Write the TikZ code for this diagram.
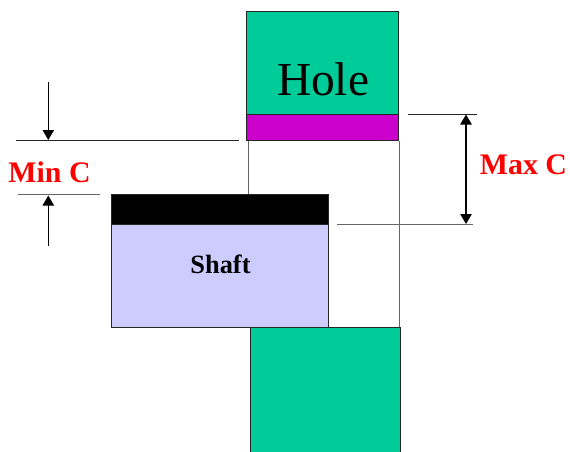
\documentclass[tikz,border=0pt]{standalone}
\usepackage{fontspec}
\setmainfont{Liberation Serif}
\usepackage{xcolor}
\usetikzlibrary{arrows.meta}
\definecolor{holegreen}{HTML}{00CC99}
\definecolor{holepurple}{HTML}{CC00CC}
\definecolor{shaftblue}{HTML}{CCCCFF}
\tikzset{
    part/.style={draw=black!85,line width=0.7pt},
    edgeline/.style={draw=black!60,line width=0.7pt},
    dimline/.style={draw=black!85,line width=0.7pt},
    dimarrow/.style={draw=black,line width=0.7pt,-{Triangle[length=7.5pt,width=8.5pt]}},
    dimlabel/.style={text=red,font=\fontsize{22.4}{24}\selectfont\bfseries,inner sep=0pt},
}

\begin{document}
\begin{tikzpicture}[x=0.75pt,y=-0.75pt]
    \useasboundingbox (0,0) rectangle (570,451);

    % Hole clearance lines
    \draw[edgeline] (248,141) -- (248,328);
    \draw[edgeline] (399.7,141) -- (399.7,327);

    % Hole
    \draw[part,fill=holegreen] (246.7,11) rectangle (398.7,114);
    \draw[part,fill=holepurple] (246.7,114) rectangle (398.7,140.5);
    \draw[part,fill=holegreen] (250.5,327) rectangle (400.7,454);
    \node[inner sep=0pt,font=\fontsize{35.5}{38}\selectfont] (holetext) at (323,79) {Hole};

    % Shaft
    \draw[part,fill=shaftblue] (111.7,224) rectangle (328.7,327);
    \draw[part,fill=black] (111.7,194.7) rectangle (328.7,224);
    \node[inner sep=0pt,font=\fontsize{19.8}{22}\selectfont\bfseries] (shafttext) at (220.5,264) {Shaft};

    % Min C
    \coordinate (mintopl) at (16,140.5);
    \coordinate (mintopr) at (239,140.5);
    \coordinate (minbotl) at (18,194.5);
    \coordinate (minbotr) at (100,194.5);
    \coordinate (minina) at (48.3,82);
    \coordinate (mininb) at (48.3,140);
    \coordinate (minouta) at (48.3,245.5);
    \coordinate (minoutb) at (48.3,195.5);
    \draw[dimline] (mintopl) -- (mintopr);
    \draw[edgeline] (minbotl) -- (minbotr);
    \draw[dimarrow] (minina) -- (mininb);
    \draw[dimarrow] (minouta) -- (minoutb);
    \node[dimlabel] (mintext) at (49.5,172) {Min C};

    % Max C
    \coordinate (maxtopl) at (408,114.5);
    \coordinate (maxtopr) at (477,114.5);
    \coordinate (maxbotl) at (337,224);
    \coordinate (maxbotr) at (473,224);
    \coordinate (maxa) at (466,114.5);
    \coordinate (maxb) at (466,224);
    \draw[dimline] (maxtopl) -- (maxtopr);
    \draw[edgeline] (maxbotl) -- (maxbotr);
    \draw[draw=black,line width=1.2pt,{Triangle[length=7.5pt,width=8.5pt]}-{Triangle[length=7.5pt,width=8.5pt]}] (maxa) -- (maxb);
    \node[dimlabel] (maxtext) at (523.5,165) {Max C};
\end{tikzpicture}
\end{document}
